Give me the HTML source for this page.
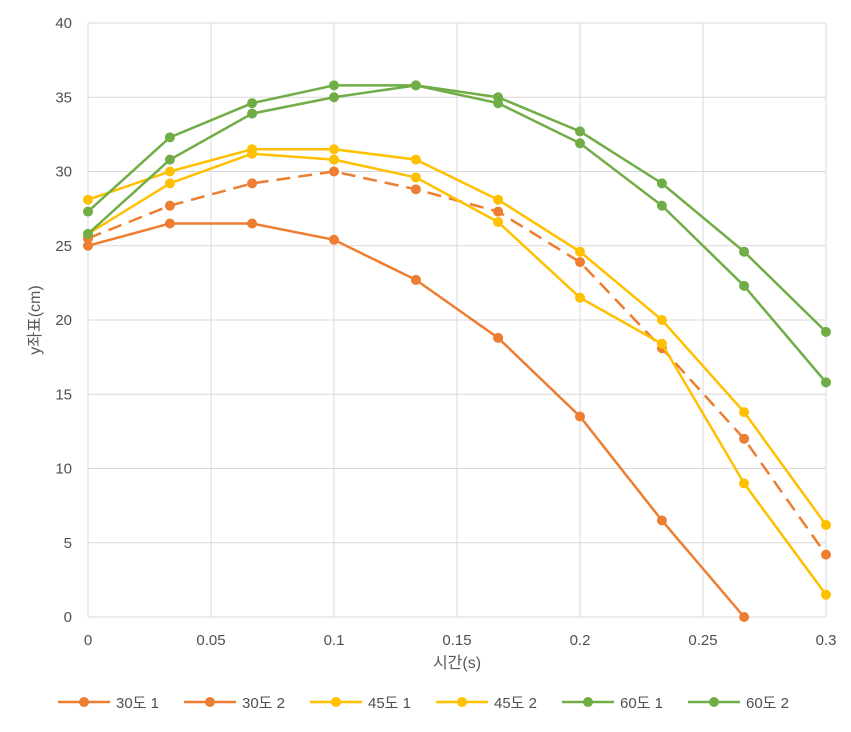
<!DOCTYPE html>
<html><head><meta charset="utf-8"><style>
body{margin:0;background:#fff;}
svg{display:block;font-family:"Liberation Sans","Noto Sans CJK KR",sans-serif;}
</style></head><body>
<svg id="chart" width="851" height="732" viewBox="0 0 851 732">
<rect width="851" height="732" fill="#fff"/>
<g id="grid"></g><g id="axes"></g><g id="series"></g><g id="legend"></g>
<text x="40" y="320" transform="rotate(-90 40 320)" text-anchor="middle" font-size="16" fill="#595959">y좌표(cm)</text>
<text x="457" y="668" text-anchor="middle" font-size="16" fill="#595959">시간(s)</text>
</svg>
<script>
const xValues=[0,0.0333,0.0667,0.1,0.1333,0.1667,0.2,0.2333,0.2667,0.3];
const s30a=[25.0,26.5,26.5,25.4,22.7,18.8,13.5,6.5,0];
const s30b=[25.5,27.7,29.2,30.0,28.8,27.3,23.9,18.1,12.0,4.2];
const s45a=[28.1,30.0,31.5,31.5,30.8,28.1,24.6,20.0,13.8,6.2];
const s45b=[25.8,29.2,31.2,30.8,29.6,26.6,21.5,18.4,9.0,1.5];
const s60a=[27.3,32.3,34.6,35.8,35.8,35.0,32.7,29.2,24.6,19.2];
const s60b=[25.8,30.8,33.9,35.0,35.8,34.6,31.9,27.7,22.3,15.8];
const xTicks=[0,0.05,0.1,0.15,0.2,0.25,0.3];
const xTickLabels=["0","0.05","0.1","0.15","0.2","0.25","0.3"];
const yTicks=[0,5,10,15,20,25,30,35,40];
const seriesNames=["30도 1","30도 2","45도 1","45도 2","60도 1","60도 2"];
const NS="http://www.w3.org/2000/svg";
const X=v=>88+v/0.3*738;
const Y=v=>617-v/40*594;
function mk(t,a,p){const e=document.createElementNS(NS,t);for(const k in a)e.setAttribute(k,a[k]);p.appendChild(e);return e;}
const grid=document.getElementById('grid'),axes=document.getElementById('axes'),ser=document.getElementById('series'),leg=document.getElementById('legend');
yTicks.forEach(v=>{
 const l=mk('line',{x1:88,x2:826,y1:Y(v),y2:Y(v),stroke:'#d9d9d9','stroke-width':1},grid);
 
 
 const t=mk('text',{x:72,y:Y(v)+5,'text-anchor':'end','font-size':15,fill:'#505050'},axes);t.textContent=v;
 
 
});
xTicks.forEach((v,i)=>{
 const l=mk('line',{x1:X(v),x2:X(v),y1:Y(0),y2:Y(40),stroke:'#d9d9d9','stroke-width':1},grid);
 
 
 const t=mk('text',{x:X(v),y:645,'text-anchor':'middle','font-size':15,fill:'#505050'},axes);t.textContent=xTickLabels[i];
 
 
});
const defs=[[s30a,'#ED7D31',null],[s30b,'#ED7D31','14,8'],[s45a,'#FFC000',null],[s45b,'#FFC000',null],[s60a,'#70AD47',null],[s60b,'#70AD47',null]];
defs.forEach((d,si)=>{
 const g=mk('g',{},ser);
 
 
 const pts=d[0].map((v,i)=>X(xValues[i])+','+Y(v)).join(' ');
 const a={points:pts,fill:'none',stroke:d[1],'stroke-width':2.5};if(d[2])a['stroke-dasharray']=d[2];
 const pl=mk('polyline',a,g);
 
 
 d[0].forEach((v,i)=>{const c=mk('circle',{cx:X(xValues[i]),cy:Y(v),r:5,fill:d[1]},g);
  
  });
 const lx=58+si*126;
 const ll=mk('line',{x1:lx,x2:lx+52,y1:702,y2:702,stroke:d[1],'stroke-width':2.5},leg);
 
 
 const lc=mk('circle',{cx:lx+26,cy:702,r:5,fill:d[1]},leg);
 
 
 const lt=mk('text',{x:lx+58,y:708,'font-size':15,fill:'#505050'},leg);lt.textContent=seriesNames[si];
 
 
});
</script>
</body></html>
